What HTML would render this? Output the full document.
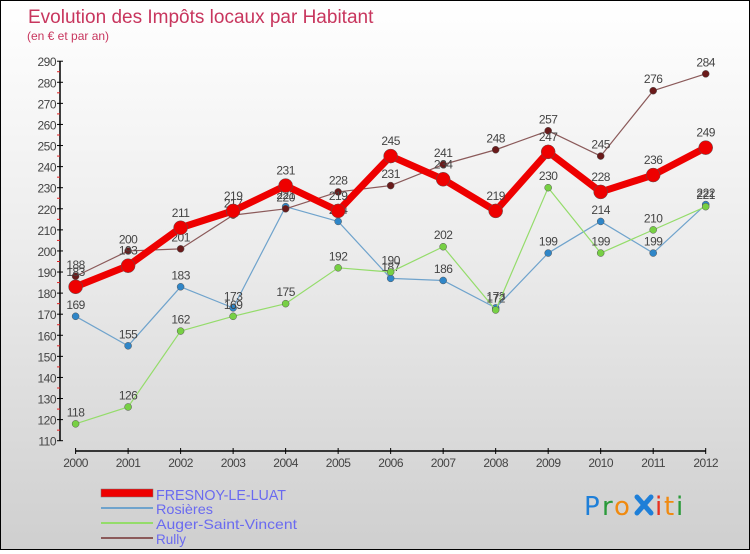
<!DOCTYPE html>
<html><head><meta charset="utf-8">
<style>
html,body{margin:0;padding:0}
body{width:750px;height:550px;overflow:hidden;font-family:"Liberation Sans",sans-serif}
#wrap{position:relative;width:748px;height:548px;border:1px solid #000;background:linear-gradient(#ffffff 0%,#ececec 45%,#cfcfcf 100%)}
</style></head><body>
<div id="wrap">
<svg id="chart" width="748" height="548" xmlns="http://www.w3.org/2000/svg">
<text x="27" y="22" font-size="19" fill="#c8365e" font-family="Liberation Sans, sans-serif">Evolution des Impôts locaux par Habitant</text>
<text x="26" y="39" font-size="12" fill="#c8365e">(en € et par an)</text>
<g id="axes"></g>
<g id="series"></g>
<g id="legend">
  <rect x="100" y="488" width="52" height="8" fill="#ee0000" stroke="#777" stroke-width="0.5"/>
  <line x1="100" y1="507" x2="152" y2="507" stroke="#6fa3cc" stroke-width="2"/>
  <line x1="100" y1="522" x2="152" y2="522" stroke="#94dc6a" stroke-width="2"/>
  <line x1="100" y1="537" x2="152" y2="537" stroke="#8b5a5a" stroke-width="2"/>
  <text x="155" y="499" font-size="15" fill="#6a6af0" textLength="130" lengthAdjust="spacingAndGlyphs">FRESNOY-LE-LUAT</text>
  <text x="155" y="513" font-size="14" fill="#6a6af0" textLength="57" lengthAdjust="spacingAndGlyphs">Rosières</text>
  <text x="155" y="528" font-size="14" fill="#6a6af0" textLength="141" lengthAdjust="spacingAndGlyphs">Auger-Saint-Vincent</text>
  <text x="155" y="543" font-size="14" fill="#6a6af0" textLength="30" lengthAdjust="spacingAndGlyphs">Rully</text>
</g>
<g font-size="26" font-family="DejaVu Sans, sans-serif">
  <text x="583" y="514" fill="#1e7fd8">P</text>
  <text x="601" y="514" fill="#2a9a3a">r</text>
  <text x="613" y="514" fill="#f08a10">o</text>
  <g stroke="#1e7fd8" stroke-width="5" stroke-linecap="round"><line x1="636" y1="496" x2="650" y2="512"/><line x1="650" y1="496" x2="636" y2="512"/></g>
  <text x="654" y="514" fill="#e83020">i</text>
  <text x="663" y="514" fill="#f08a10">t</text>
  <text x="675" y="514" fill="#2a9a3a">i</text>
</g>
</svg>
</div>
<script>
const years = [2000,2001,2002,2003,2004,2005,2006,2007,2008,2009,2010,2011,2012];
const yTicks = [110,120,130,140,150,160,170,180,190,200,210,220,230,240,250,260,270,280,290];
const fresnoy = [183,193,211,219,231,219,245,234,219,247,228,236,249];
const rosieres = [169,155,183,173,221,214,187,186,173,199,214,199,222];
const auger = [118,126,162,169,175,192,190,202,172,230,199,210,221];
const rully = [188,200,201,217,220,228,231,241,248,257,245,276,284];

const NS = "http://www.w3.org/2000/svg";
const X0 = 74.6, X1 = 704.7, Y0 = 439.7, Y1 = 60.2, XAXIS_Y = 450;
function xs(i){ return X0 + (X1 - X0) * i / (years.length - 1); }
function ys(v){ return Y0 - (v - 110) * (Y0 - Y1) / (290 - 110); }
function mk(tag, attrs, parent){ const e = document.createElementNS(NS, tag); for (const k in attrs) e.setAttribute(k, attrs[k]); parent.appendChild(e); return e; }

const axes = document.getElementById('axes');
const yAxis = mk('line', {x1:59, y1:Y1, x2:59, y2:Y0, stroke:'#000', 'stroke-width':1.5}, axes);


yTicks.forEach((t, i) => {
  const y = ys(t);
  mk('line', {x1:56, y1:y, x2:62, y2:y, stroke:'#000', 'stroke-width':1}, axes);
  if (i < yTicks.length - 1) mk('line', {x1:56, y1:ys(t + 5), x2:59, y2:ys(t + 5), stroke:'#e02020', 'stroke-width':1}, axes);
  const tx = mk('text', {x:55, y:y + 5, 'font-size':12, fill:'#444', 'text-anchor':'end', 'letter-spacing':'-0.5'}, axes);
  tx.textContent = t;
  
  
});
const xAxis = mk('line', {x1:X0, y1:XAXIS_Y, x2:X1, y2:XAXIS_Y, stroke:'#000', 'stroke-width':1.5}, axes);


years.forEach((yr, i) => {
  const x = xs(i);
  mk('line', {x1:x, y1:XAXIS_Y - 3, x2:x, y2:XAXIS_Y + 3, stroke:'#000', 'stroke-width':1}, axes);
  const tx = mk('text', {x:x, y:XAXIS_Y + 16, 'font-size':12, fill:'#444', 'text-anchor':'middle', 'letter-spacing':'-0.5'}, axes);
  tx.textContent = yr;
  
  
});

const seriesG = document.getElementById('series');
function drawSeries(name, vals, color, dotColor, width, r){
  const g = mk('g', {}, seriesG);
  
  
  const pts = vals.map((v, i) => xs(i) + ',' + ys(v)).join(' ');
  const pl = mk('polyline', {points:pts, fill:'none', stroke:color, 'stroke-width':width, 'stroke-linejoin':'round'}, g);
  
  
  vals.forEach((v, i) => {
    const c = mk('circle', {cx:xs(i), cy:ys(v), r:r, fill:dotColor, stroke:'#555', 'stroke-width':0.5}, g);
    
    
    const t = mk('text', {x:xs(i), y:ys(v) - r - 4, 'font-size':12, fill:'#444', 'text-anchor':'middle', 'letter-spacing':'-0.5'}, g);
    t.textContent = v;
    
    
  });
}
drawSeries('rosieres', rosieres, '#6fa3cc', '#2f86c8', 1.2, 3.5);
drawSeries('auger', auger, '#94dc6a', '#77d044', 1.2, 3.5);
drawSeries('rully', rully, '#8b5a5a', '#6a1a1a', 1.2, 3.5);
drawSeries('fresnoy', fresnoy, '#ee0000', '#ee0000', 7, 7);
</script>
</body></html>
